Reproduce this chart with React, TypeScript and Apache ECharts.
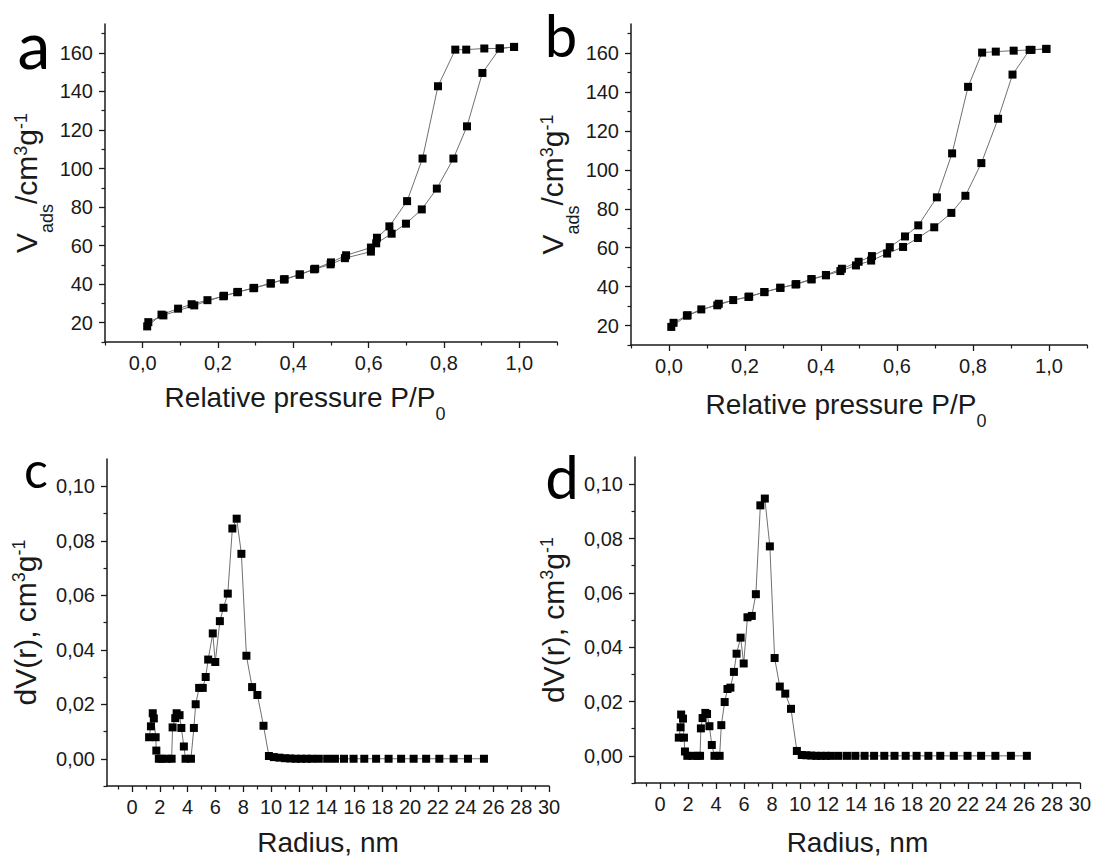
import React, { useEffect, useRef } from 'react';
import * as echarts from 'echarts';

const FONT = '"Liberation Sans", Arial, Helvetica, sans-serif';
const LETTER_FONT = 'Lato, "Open Sans", sans-serif';

// Panel a: N2 isotherm (relative pressure, Vads)
const aAdsorption: [number, number][] = [
  [0.012, 18.1], [0.05, 24.2], [0.094, 27.3], [0.13, 29.6], [0.172, 31.7], [0.214, 33.7],
  [0.251, 35.8], [0.294, 37.9], [0.34, 40.3], [0.375, 42.4], [0.417, 44.9], [0.455, 47.7],
  [0.499, 50.3], [0.537, 53.5], [0.606, 56.9], [0.62, 61.2], [0.661, 66.2], [0.699, 71.4],
  [0.741, 78.8], [0.781, 89.6], [0.825, 105.2], [0.861, 121.9], [0.902, 149.6], [0.948, 162.3],
  [0.986, 163.1],
];
const aDesorption: [number, number][] = [
  [0.986, 163.1], [0.948, 162.3], [0.907, 162.3], [0.859, 161.7], [0.83, 161.7], [0.784, 142.7],
  [0.743, 105.2], [0.702, 83.1], [0.655, 70.0], [0.622, 64.1], [0.606, 59.0], [0.54, 55.0],
  [0.5, 51.3], [0.458, 48.0], [0.417, 45.1], [0.377, 42.6], [0.34, 40.5], [0.296, 38.1],
  [0.253, 36.0], [0.216, 34.0], [0.137, 29.0], [0.055, 23.8], [0.015, 20.3],
];

// Panel b
const bAdsorption: [number, number][] = [
  [0.006, 19.3], [0.047, 25.1], [0.085, 28.3], [0.127, 30.4], [0.169, 33.1], [0.209, 34.7],
  [0.251, 37.2], [0.293, 39.4], [0.333, 41.1], [0.375, 43.7], [0.413, 45.8], [0.451, 48.0],
  [0.492, 50.9], [0.532, 53.4], [0.574, 57.0], [0.616, 60.4], [0.655, 65.0], [0.698, 70.5],
  [0.743, 77.9], [0.78, 86.7], [0.822, 103.5], [0.866, 126.3], [0.904, 149.0], [0.949, 161.7],
  [0.993, 162.2],
];
const bDesorption: [number, number][] = [
  [0.993, 162.2], [0.954, 161.7], [0.907, 161.3], [0.86, 160.8], [0.824, 160.3], [0.787, 142.7],
  [0.745, 108.5], [0.705, 85.9], [0.656, 71.5], [0.621, 65.8], [0.581, 60.3], [0.534, 55.7],
  [0.499, 52.8], [0.455, 49.2], [0.413, 46.0], [0.375, 43.9], [0.335, 41.3], [0.293, 39.4],
  [0.251, 37.2], [0.211, 34.9], [0.131, 31.2], [0.049, 25.3], [0.012, 21.4],
];

// Panel c: pore size distribution (radius nm, dV(r))
const cDistribution: [number, number][] = [
  [1.23, 0.0079], [1.36, 0.0119], [1.49, 0.0167], [1.57, 0.0148], [1.7, 0.0079], [1.75, 0.003],
  [1.93, 0], [2.13, 0], [2.52, 0], [2.85, 0], [2.92, 0.0115], [3.11, 0.0149], [3.21, 0.0167],
  [3.42, 0.016], [3.55, 0.0113], [3.73, 0.0045], [3.85, 0], [4.24, 0], [4.45, 0.0113],
  [4.58, 0.02], [4.83, 0.026], [5.09, 0.026], [5.3, 0.03], [5.48, 0.0364], [5.81, 0.046],
  [5.99, 0.0355], [6.32, 0.0505], [6.58, 0.0554], [6.89, 0.0606], [7.22, 0.0845], [7.53, 0.0881],
  [7.87, 0.0752], [8.23, 0.0378], [8.64, 0.0263], [9.02, 0.0234], [9.46, 0.0121], [9.85, 0.001],
  [10.2, 0.0006], [10.6, 0.0004], [11.0, 0.0002], [11.39, 0.0001], [11.77, 0], [12.16, 0],
  [12.54, 0], [12.93, 0], [13.44, 0], [14.04, 0], [14.6, 0], [15.25, 0], [15.94, 0], [16.71, 0],
  [17.56, 0], [18.46, 0], [19.36, 0], [20.26, 0], [21.16, 0], [22.11, 0], [23.14, 0], [24.17, 0],
  [25.32, 0],
];

// Panel d
const dDistribution: [number, number][] = [
  [1.33, 0.0067], [1.46, 0.0105], [1.5, 0.0152], [1.63, 0.0137], [1.7, 0.0067], [1.77, 0.0016],
  [1.94, 0], [2.3, 0], [2.67, 0], [2.85, 0], [2.91, 0.0101], [3.03, 0.0139], [3.23, 0.0158],
  [3.35, 0.0154], [3.52, 0.0109], [3.69, 0.004], [3.88, 0], [4.25, 0], [4.37, 0.0113],
  [4.61, 0.0198], [4.81, 0.0246], [5.02, 0.0251], [5.27, 0.0309], [5.46, 0.0376], [5.75, 0.0435],
  [5.97, 0.034], [6.24, 0.051], [6.55, 0.0515], [6.84, 0.0595], [7.16, 0.0922], [7.48, 0.0947],
  [7.84, 0.0771], [8.18, 0.036], [8.55, 0.0255], [8.94, 0.0229], [9.35, 0.0173], [9.77, 0.0018],
  [10.12, 0.0003], [10.45, 0.0002], [10.8, 0.0001], [11.15, 0], [11.5, 0], [11.85, 0], [12.2, 0],
  [12.74, 0], [13.35, 0], [13.95, 0], [14.61, 0], [15.29, 0], [16.02, 0], [16.75, 0], [17.55, 0],
  [18.33, 0], [19.17, 0], [20.02, 0], [20.99, 0], [21.97, 0], [22.94, 0], [23.96, 0], [25.07, 0],
  [26.21, 0],
];

// Tick values
const isoXMajor = [0, 0.2, 0.4, 0.6, 0.8, 1.0];
const isoXMinor = [-0.1, 0.1, 0.3, 0.5, 0.7, 0.9, 1.1];
const isoYMajor = [20, 40, 60, 80, 100, 120, 140, 160];
const isoYMinor = [10, 30, 50, 70, 90, 110, 130, 150, 170];
const psdXMajor = [0, 2, 4, 6, 8, 10, 12, 14, 16, 18, 20, 22, 24, 26, 28, 30];
const psdXMinor = [-1, 1, 3, 5, 7, 9, 11, 13, 15, 17, 19, 21, 23, 25, 27, 29];
const psdYMajor = [0, 0.02, 0.04, 0.06, 0.08, 0.1];
const psdYMinor = [-0.01, 0.01, 0.03, 0.05, 0.07, 0.09];

const panelLetters = ['a', 'b', 'c', 'd'];

const INK = '#1a1a1a';

function richStyles(size: number, small: number, subDrop: number) {
  return {
    m: { fontSize: size, fontFamily: FONT, color: INK, lineHeight: size + 4, verticalAlign: 'top' },
    sp: { fontSize: small, fontFamily: FONT, color: INK, lineHeight: small - 2, verticalAlign: 'top' },
    sb: { fontSize: small, fontFamily: FONT, color: INK, lineHeight: small - 2, verticalAlign: 'top', padding: [subDrop, 0, 0, 0] },
  };
}

function majorAxis(dim: 'x' | 'y', gridIndex: number, min: number, max: number, ticks: number[], fmt: (v: number) => string, name: string, nameGap: number, namePad: number[] = [0, 0, 0, 0]) {
  return {
    type: 'value',
    gridIndex,
    min,
    max,
    position: dim === 'x' ? 'bottom' : 'left',
    axisLine: { show: true, onZero: false, lineStyle: { color: INK, width: 1.5 } },
    axisTick: { show: true, inside: false, length: 6, customValues: ticks, lineStyle: { color: INK, width: 1.3 } },
    axisLabel: { show: true, customValues: ticks, formatter: fmt, margin: dim === 'x' ? 11 : 12, fontSize: 20, color: INK, fontFamily: FONT },
    splitLine: { show: false },
    name,
    nameLocation: 'middle',
    nameGap,
    nameTextStyle: dim === 'x'
      ? { rich: richStyles(28, 18, 22), padding: namePad }
      : { rich: richStyles(30, 18, 26), padding: namePad },
  };
}

function minorAxis(dim: 'x' | 'y', gridIndex: number, min: number, max: number, ticks: number[]) {
  return {
    type: 'value',
    gridIndex,
    min,
    max,
    position: dim === 'x' ? 'bottom' : 'left',
    axisLine: { show: false, onZero: false },
    axisTick: { show: true, inside: false, length: 3.5, customValues: ticks, lineStyle: { color: INK, width: 1.2 } },
    axisLabel: { show: false },
    splitLine: { show: false },
  };
}

const fmt0 = (v: number) => String(Math.round(v));
const fmt1 = (v: number) => v.toFixed(1).replace('.', ',');
const fmt2 = (v: number) => v.toFixed(2).replace('.', ',');

function lineSeries(axisIndex: number, data: [number, number][]) {
  return {
    type: 'line',
    xAxisIndex: axisIndex,
    yAxisIndex: axisIndex,
    data,
    symbol: 'rect',
    symbolSize: 8,
    showSymbol: true,
    itemStyle: { color: '#000' },
    lineStyle: { color: '#707070', width: 1 },
    silent: true,
    clip: false,
  };
}

export default function App() {
  const ref = useRef<HTMLDivElement>(null);
  useEffect(() => {
    if (!ref.current) return;
    const chart = echarts.init(ref.current, null, { renderer: 'svg' });
    const isoYName = '{m|V}{sb|ads}{m|/cm}{sp|3}{m|g}{sp|-1}';
    const psdYName = '{m|dV(r), cm}{sp|3}{m|g}{sp|-1}';
    const isoXName = '{m|Relative pressure P/P}{sb|0}';
    const psdXName = '{m|Radius, nm}';
    const option = {
      animation: false,
      backgroundColor: '#fff',
      grid: [
        { left: 105, top: 24, width: 452, height: 318 },
        { left: 631, top: 24, width: 456, height: 321 },
        { left: 107, top: 459, width: 442, height: 328 },
        { left: 635, top: 457, width: 446, height: 329 },
      ],
      xAxis: [
        majorAxis('x', 0, -0.1, 1.1, isoXMajor, fmt1, isoXName, 41, [0, 52, 0, 0]),
        minorAxis('x', 0, -0.1, 1.1, isoXMinor),
        majorAxis('x', 1, -0.1, 1.1, isoXMajor, fmt1, isoXName, 45, [0, 26, 0, 0]),
        minorAxis('x', 1, -0.1, 1.1, isoXMinor),
        majorAxis('x', 2, -1.8, 30, psdXMajor, fmt0, psdXName, 42),
        minorAxis('x', 2, -1.8, 30, psdXMinor),
        majorAxis('x', 3, -1.8, 30, psdXMajor, fmt0, psdXName, 45),
        minorAxis('x', 3, -1.8, 30, psdXMinor),
      ],
      yAxis: [
        majorAxis('y', 0, 10, 175, isoYMajor, fmt0, isoYName, 56),
        minorAxis('y', 0, 10, 175, isoYMinor),
        majorAxis('y', 1, 10, 175, isoYMajor, fmt0, isoYName, 57),
        minorAxis('y', 1, 10, 175, isoYMinor),
        majorAxis('y', 2, -0.01, 0.11, psdYMajor, fmt2, psdYName, 63),
        minorAxis('y', 2, -0.01, 0.11, psdYMinor),
        majorAxis('y', 3, -0.01, 0.11, psdYMajor, fmt2, psdYName, 63),
        minorAxis('y', 3, -0.01, 0.11, psdYMinor),
      ],
      series: [
        lineSeries(0, aAdsorption),
        lineSeries(0, aDesorption),
        lineSeries(2, bAdsorption),
        lineSeries(2, bDesorption),
        lineSeries(4, cDistribution),
        lineSeries(6, dDistribution),
      ],
      graphic: [
        { type: 'text', x: 34, y: 43, style: { text: panelLetters[0], fontSize: 66, fontFamily: LETTER_FONT, fill: '#000', textAlign: 'center', textVerticalAlign: 'middle' } },
        { type: 'text', x: 561, y: 34, style: { text: panelLetters[1], fontSize: 58, fontFamily: LETTER_FONT, fill: '#000', textAlign: 'center', textVerticalAlign: 'middle' } },
        { type: 'text', x: 36, y: 469, style: { text: panelLetters[2], fontSize: 50, fontFamily: LETTER_FONT, fill: '#000', textAlign: 'center', textVerticalAlign: 'middle' } },
        { type: 'text', x: 562, y: 476, style: { text: panelLetters[3], fontSize: 60, fontFamily: LETTER_FONT, fill: '#000', textAlign: 'center', textVerticalAlign: 'middle' } },
      ],
    };
    chart.setOption(option as any);
    return () => chart.dispose();
  }, []);
  return <div ref={ref} style={{ position: 'fixed', left: 0, top: 0, width: 1094, height: 857, background: '#fff' }} />;
}
